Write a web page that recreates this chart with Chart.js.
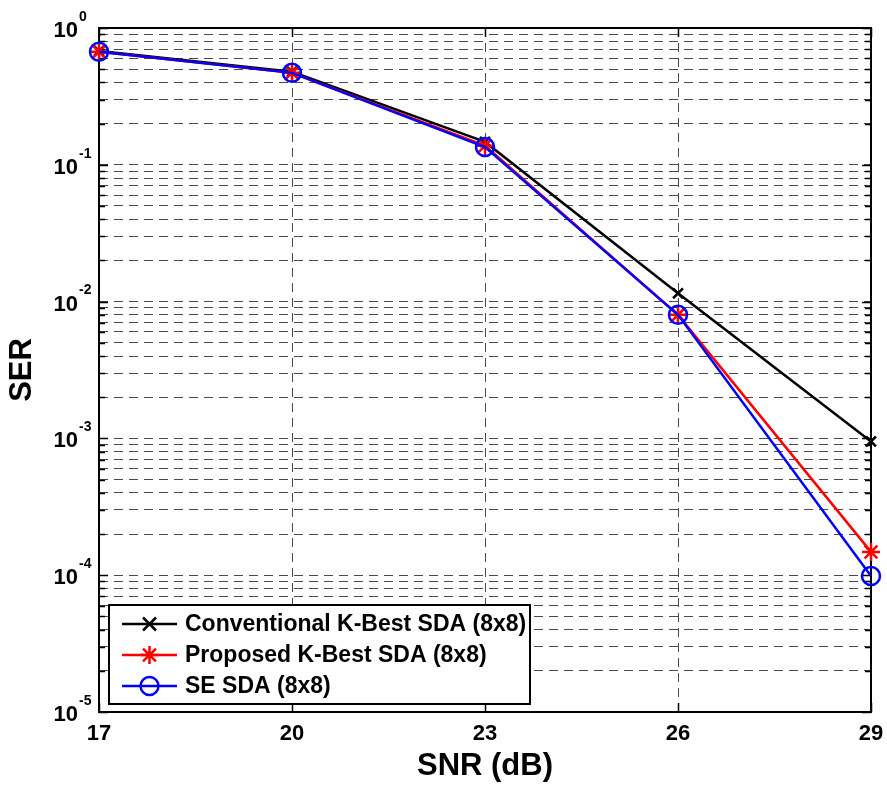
<!DOCTYPE html>
<html>
<head>
<meta charset="utf-8">
<script src="https://cdn.jsdelivr.net/npm/chart.js@4.4.1/dist/chart.umd.min.js"></script>
<style>
  html, body { margin: 0; padding: 0; background: #fff; }
  #wrap { width: 887px; height: 785px; }
</style>
</head>
<body>
<div id="wrap"><canvas id="c" width="887" height="785"></canvas></div>
<script>
// SER vs SNR
const snr = [17, 20, 23, 26, 29];
const serConventional = [0.68, 0.48, 0.147, 0.0115, 0.00095];
const serProposed = [0.67, 0.47, 0.138, 0.0080, 0.000148];
const serSE = [0.67, 0.47, 0.135, 0.0080, 0.0000985];
const seriesNames = ['Conventional K-Best SDA (8x8)', 'Proposed K-Best SDA (8x8)', 'SE SDA (8x8)'];
const seriesColors = ['#000000', '#ff0000', '#0000ff'];
const seriesMarkers = ['crossRot', 'star', 'circle'];

const xTicks = [17, 20, 23, 26, 29];
const yDecades = [0, -1, -2, -3, -4, -5];

// every 1..9 x 10^n line inside the decade range
const yGrid = [];
for (const d of yDecades) {
  for (let m = 1; m <= 9; m++) {
    const v = m * Math.pow(10, d);
    if (v <= 1 && v >= 1e-5) yGrid.push({ value: v, major: m === 1 });
  }
}

const FONT = 'Arial, "Liberation Sans", sans-serif';
const GRID = { color: '#4a4a4a', dash: [9, 6] };

function drawMarker(ctx, style, x, y, color) {
  ctx.save();
  ctx.strokeStyle = color;
  ctx.lineWidth = 2.5;
  ctx.beginPath();
  if (style === 'crossRot') {
    const r = 6.5;
    ctx.moveTo(x - r, y - r); ctx.lineTo(x + r, y + r);
    ctx.moveTo(x - r, y + r); ctx.lineTo(x + r, y - r);
  } else if (style === 'star') {
    const r = 9, s = r * 0.72;
    ctx.moveTo(x, y - r); ctx.lineTo(x, y + r);
    ctx.moveTo(x - r, y); ctx.lineTo(x + r, y);
    ctx.moveTo(x - s, y - s); ctx.lineTo(x + s, y + s);
    ctx.moveTo(x - s, y + s); ctx.lineTo(x + s, y - s);
  } else {
    ctx.arc(x, y, 9, 0, Math.PI * 2);
  }
  ctx.stroke();
  ctx.restore();
}

// frame, inward tick marks, y tick labels with superscripts, legend box
const framePlugin = {
  id: 'frame',
  beforeDatasetsDraw(chart) {
    const { ctx, chartArea: a, scales } = chart;
    ctx.save();
    ctx.strokeStyle = '#000';
    ctx.lineWidth = 1.5;
    ctx.beginPath();
    for (const t of yGrid) {
      const y = Math.round(scales.y.getPixelForValue(t.value)) + 0.5;
      const len = t.major ? 9 : 6;
      ctx.moveTo(a.left, y); ctx.lineTo(a.left + len, y);
      ctx.moveTo(a.right, y); ctx.lineTo(a.right - len, y);
    }
    for (const v of xTicks) {
      const x = Math.round(scales.x.getPixelForValue(v)) + 0.5;
      ctx.moveTo(x, a.bottom); ctx.lineTo(x, a.bottom - 9);
      ctx.moveTo(x, a.top); ctx.lineTo(x, a.top + 9);
    }
    ctx.stroke();
    ctx.lineWidth = 2;
    ctx.strokeRect(a.left, a.top, a.right - a.left, a.bottom - a.top);

    ctx.fillStyle = '#000';
    ctx.textBaseline = 'middle';
    for (const d of yDecades) {
      const y = scales.y.getPixelForValue(Math.pow(10, d));
      ctx.font = 'bold 22px ' + FONT;
      ctx.textAlign = 'right';
      ctx.fillText('10', a.left - 21, y + 3);
      ctx.font = 'bold 14px ' + FONT;
      ctx.textAlign = 'left';
      ctx.fillText(String(d), a.left - 20, y - 11);
    }
    ctx.restore();
  },
  afterDraw(chart) {
    const { ctx } = chart;
    const box = { x: 109, y: 605, w: 421, h: 99 };
    ctx.save();
    ctx.fillStyle = '#fff';
    ctx.fillRect(box.x, box.y, box.w, box.h);
    ctx.strokeStyle = '#000';
    ctx.lineWidth = 2;
    ctx.strokeRect(box.x, box.y, box.w, box.h);
    const rows = [624, 655, 686];
    seriesNames.forEach((name, i) => {
      const y = rows[i];
      ctx.strokeStyle = seriesColors[i];
      ctx.lineWidth = 2.5;
      ctx.beginPath();
      ctx.moveTo(122, y); ctx.lineTo(177, y);
      ctx.stroke();
      drawMarker(ctx, seriesMarkers[i], 149.5, y, seriesColors[i]);
      ctx.fillStyle = '#000';
      ctx.font = 'bold 23px ' + FONT;
      ctx.textAlign = 'left';
      ctx.textBaseline = 'middle';
      ctx.fillText(name, 185, y + 1);
    });
    ctx.restore();
  }
};

function makeDataset(i, values, order, radius) {
  return {
    label: seriesNames[i],
    data: snr.map((x, k) => ({ x, y: values[k] })),
    borderColor: seriesColors[i],
    backgroundColor: 'rgba(0,0,0,0)',
    borderWidth: 2.5,
    pointStyle: seriesMarkers[i],
    pointRadius: radius,
    pointBorderWidth: 2.5,
    pointBorderColor: seriesColors[i],
    pointBackgroundColor: 'rgba(0,0,0,0)',
    tension: 0,
    clip: false,
    order
  };
}

new Chart(document.getElementById('c'), {
  type: 'line',
  data: {
    datasets: [
      makeDataset(0, serConventional, 2, 7),
      makeDataset(1, serProposed, 1, 9),
      makeDataset(2, serSE, 0, 9)
    ]
  },
  options: {
    responsive: false,
    animation: false,
    events: [],
    layout: { padding: { top: 28, right: 16, left: 0, bottom: 0 } },
    plugins: { legend: { display: false }, tooltip: { enabled: false } },
    scales: {
      x: {
        type: 'linear',
        min: 17,
        max: 29,
        afterBuildTicks: (s) => { s.ticks = xTicks.map((v) => ({ value: v })); },
        afterFit: (s) => { s.height = 73; s.paddingLeft = 0; s.paddingRight = 0; },
        grid: { color: GRID.color, lineWidth: 1, drawTicks: false },
        border: { display: false, dash: GRID.dash },
        ticks: {
          color: '#000',
          padding: 9,
          maxRotation: 0,
          font: { family: FONT, size: 22, weight: 'bold' }
        },
        title: {
          display: true,
          text: 'SNR (dB)',
          color: '#000',
          font: { family: FONT, size: 31, weight: 'bold' },
          padding: { top: 4, bottom: 0 }
        }
      },
      y: {
        type: 'logarithmic',
        min: 1e-5,
        max: 1,
        afterBuildTicks: (s) => { s.ticks = yGrid.map((t) => ({ value: t.value, major: t.major })); },
        afterFit: (s) => { s.width = 99; s.paddingTop = 0; s.paddingBottom = 0; },
        grid: { color: GRID.color, lineWidth: 1, drawTicks: false },
        border: { display: false, dash: GRID.dash },
        ticks: { display: false },
        title: {
          display: true,
          text: 'SER',
          color: '#000',
          font: { family: FONT, size: 31, weight: 'bold' },
          padding: { top: 4, bottom: 0 }
        }
      }
    }
  },
  plugins: [framePlugin]
});
</script>
</body>
</html>
